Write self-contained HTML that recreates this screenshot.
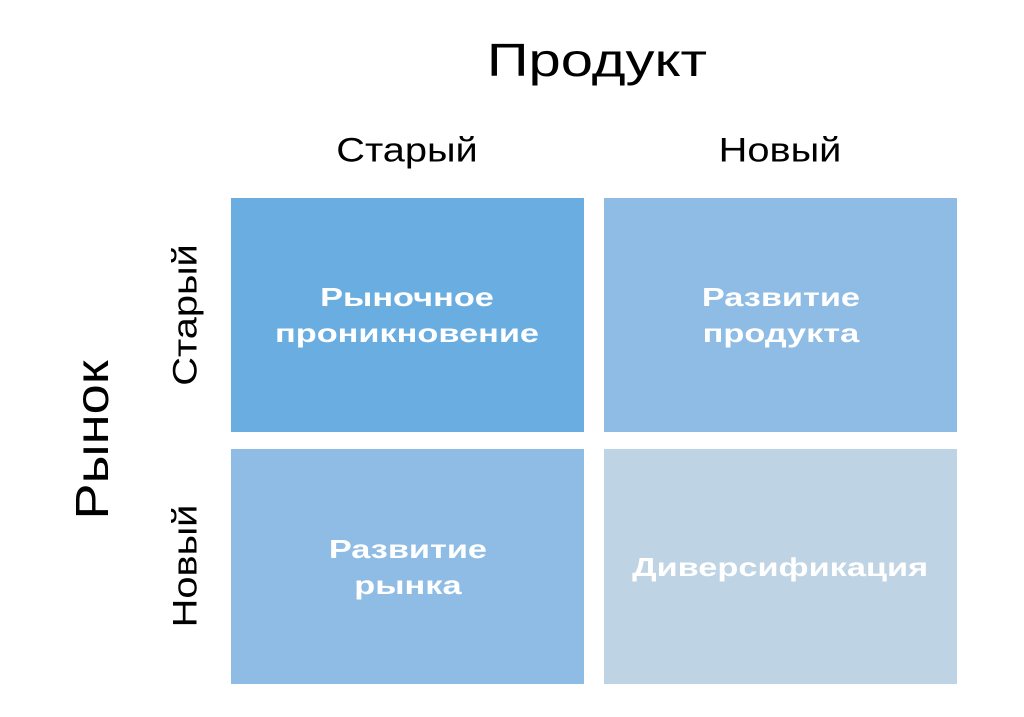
<!DOCTYPE html>
<html><head><meta charset="utf-8"><style>
body{margin:0;width:1024px;height:717px;background:#fff;position:relative;overflow:hidden;font-family:"Liberation Sans","DejaVu Sans",sans-serif;color:#000}
.t{position:absolute;white-space:nowrap}
.b{position:absolute;display:flex;align-items:center;justify-content:center;text-align:center;color:#fff;font-weight:bold;font-size:26px;line-height:36px}
.b span{display:inline-block;transform:scaleX(1.32)}
</style></head><body>
<div class="t" style="left:597px;top:60px;font-size:46px;transform:translate(-50%,-50%) scaleX(1.26)">Продукт</div>
<div class="t" style="left:407px;top:151px;font-size:34px;transform:translate(-50%,-50%) scaleX(1.17)">Старый</div>
<div class="t" style="left:780px;top:151px;font-size:34px;transform:translate(-50%,-50%) scaleX(1.17)">Новый</div>
<div class="t" style="left:92px;top:440px;font-size:46px;transform:translate(-50%,-50%) rotate(-90deg) scaleX(1.18)">Рынок</div>
<div class="t" style="left:186px;top:315px;font-size:34px;transform:translate(-50%,-50%) rotate(-90deg) scaleX(1.17)">Старый</div>
<div class="t" style="left:186px;top:566px;font-size:34px;transform:translate(-50%,-50%) rotate(-90deg) scaleX(1.17)">Новый</div>
<div class="b" style="left:231px;top:198px;width:353px;height:234px;background:#69ade1"><span>Рыночное<br>проникновение</span></div>
<div class="b" style="left:604px;top:198px;width:353px;height:234px;background:#8fbce4"><span>Развитие<br>продукта</span></div>
<div class="b" style="left:231px;top:449px;width:353px;height:235px;background:#8fbce4"><span>Развитие<br>рынка</span></div>
<div class="b" style="left:604px;top:449px;width:353px;height:235px;background:#bed3e4"><span>Диверсификация</span></div>
</body></html>
